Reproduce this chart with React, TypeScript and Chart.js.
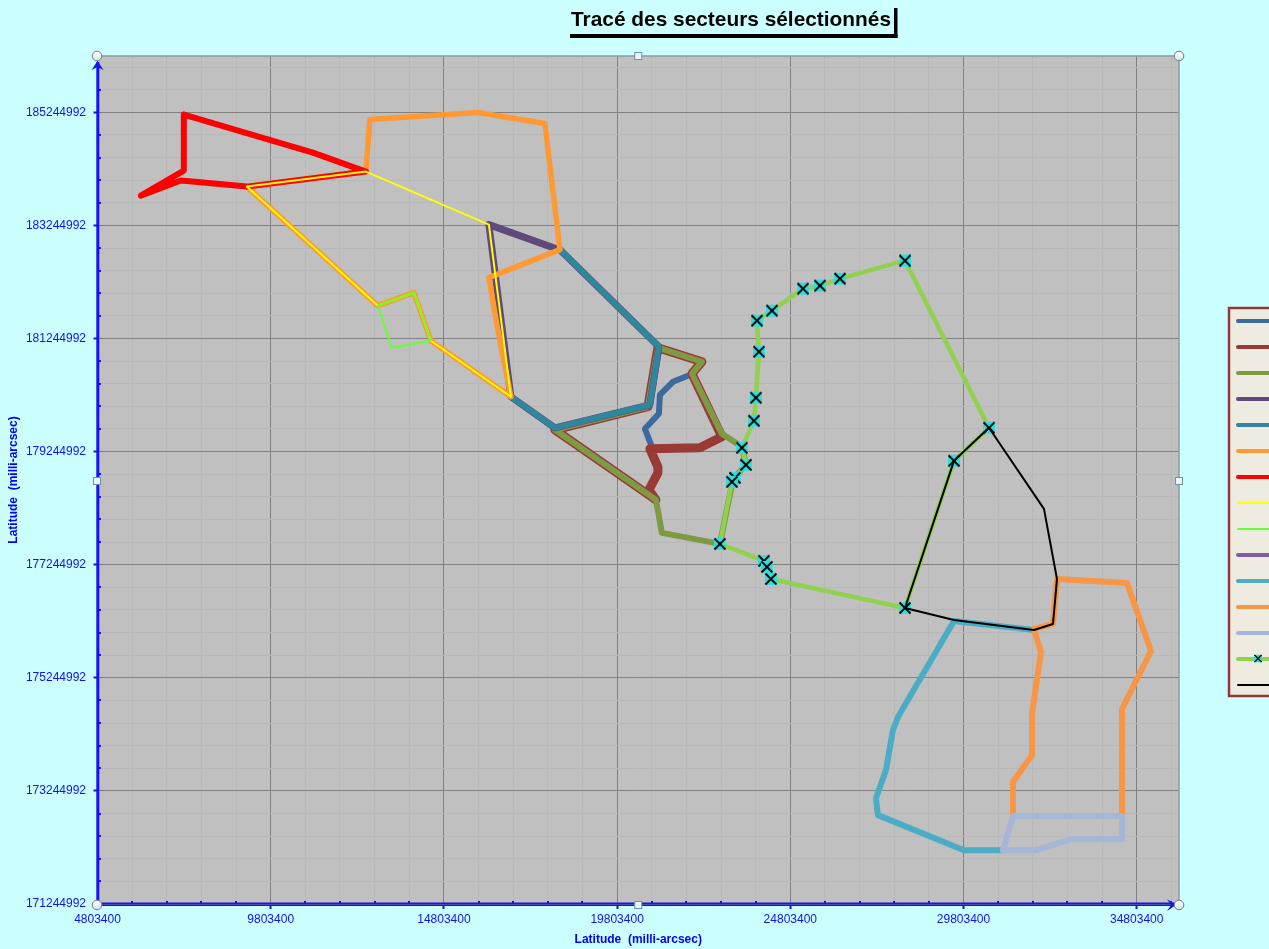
import React, { useEffect, useRef } from "react";
import { Chart, registerables } from "chart.js";

Chart.register(...registerables);

type Pt = [number, number];

const chartTitle = "Tracé des secteurs sélectionnés";
const axisTitle = "Latitude  (milli-arcsec)";

const xMajorTicks = [4803400, 9803400, 14803400, 19803400, 24803400, 29803400, 34803400];
const yMajorTicks = [171244992, 173244992, 175244992, 177244992, 179244992, 181244992, 183244992, 185244992];
const xMinorStep = 1000000;
const yMinorStep = 400000;
const xMin = 4803400;
const xMax = 36024000;
const yMin = 171244992;
const yMax = 186240600;
// Reading correction found by comparing positions with the reference.
const xReadingOffset = -20000;
const yReadingOffset = 14000;

const secteur1: Pt[] = [[21867000, 180572000], [21434000, 180466000], [21059000, 180236000], [21030000, 179900000], [20626000, 179634000], [20828000, 179316000]];
const secteur2: Pt[] = [[21001000, 181068000], [22272000, 180820000], [21983000, 180608000], [22849000, 179493000], [22214000, 179298000], [20770000, 179280000], [21001000, 178962000], [21001000, 178856000], [20741000, 178555000], [20943000, 178378000], [18027000, 179617000], [20713000, 180024000], [21001000, 181068000]];
const secteur3: Pt[] = [[21001000, 181068000], [22272000, 180820000], [21983000, 180608000], [22849000, 179546000], [23426000, 179316000], [23542000, 178997000], [23166000, 178732000], [22791000, 177599000], [21117000, 177794000], [20943000, 178378000], [18027000, 179617000], [20713000, 180024000], [21001000, 181068000]];
const secteur4: Pt[] = [[18056000, 182820000], [16122000, 183245000], [16757000, 180201000], [18027000, 179652000], [20770000, 180059000], [21030000, 181086000], [18172000, 182802000]];
const secteur5: Pt[] = [[18172000, 182802000], [21030000, 181086000], [20770000, 180059000], [18027000, 179652000], [16757000, 180201000]];
const secteur6: Pt[] = [[12686000, 185103000], [15804000, 185227000], [17739000, 185033000], [18172000, 182802000], [16122000, 182307000], [16353000, 181475000], [16757000, 180201000], [14447000, 181192000], [13956000, 182041000], [12917000, 181811000], [9134000, 183917000], [12570000, 184183000], [12686000, 185103000]];
const secteur7: Pt[] = [[7315000, 185192000], [11040000, 184519000], [12570000, 184183000], [9134000, 183917000], [7229000, 184024000], [6074000, 183758000], [7315000, 184201000], [7315000, 185192000]];
const secteur8: Pt[] = [[12570000, 184183000], [16122000, 183245000], [16757000, 180201000], [14447000, 181192000], [13956000, 182041000], [12917000, 181811000], [9134000, 183917000], [12570000, 184183000]];
const secteur9: Pt[] = [[12917000, 181811000], [13956000, 182041000], [14447000, 181192000], [13321000, 181068000], [12917000, 181811000]];
const secteur10: Pt[] = [];
const secteur11: Pt[] = [[31857000, 176077000], [29548000, 176236000], [27931000, 174537000], [27786000, 174307000], [27584000, 173599000], [27295000, 173103000], [27353000, 172803000], [29836000, 172183000], [30962000, 172183000]];
const secteur12: Pt[] = [[31251000, 172803000], [31251000, 173387000], [31800000, 173864000], [31800000, 174590000], [32059000, 175687000], [31857000, 176095000], [32406000, 176183000], [32522000, 176979000], [34543000, 176909000], [35236000, 175705000], [34399000, 174679000], [34399000, 172803000]];
const secteur13: Pt[] = [[31251000, 172785000], [34399000, 172785000], [34399000, 172378000], [32926000, 172378000], [31916000, 172183000], [30962000, 172183000], [31251000, 172785000]];
const trajectoire: Pt[] = [[28133000, 182608000], [26256000, 182289000], [25679000, 182165000], [25188000, 182112000], [24293000, 181723000], [23860000, 181546000], [23918000, 180997000], [23831000, 180183000], [23773000, 179776000], [23426000, 179298000], [23542000, 178997000], [23224000, 178767000], [23138000, 178696000], [22791000, 177599000], [24062000, 177298000], [24148000, 177192000], [24264000, 176979000], [28133000, 176466000], [29548000, 179068000], [30558000, 179652000], [28133000, 182608000]];
const contour: Pt[] = [[28133000, 176466000], [29548000, 179068000], [30558000, 179652000], [32146000, 178218000], [32522000, 176979000], [32406000, 176183000], [31857000, 176077000], [29548000, 176254000], [28133000, 176466000]];

const seriesData: Pt[][] = [secteur1, secteur2, secteur3, secteur4, secteur5, secteur6, secteur7, secteur8, secteur9, secteur10, secteur11, secteur12, secteur13, trajectoire, contour];
const seriesColors = ["#3A6A9E", "#993A37", "#7E9A43", "#604A7B", "#31859C", "#FF9933", "#FF0000", "#FFFF00", "#66FF33", "#7F5FA0", "#4BACC6", "#F79646", "#A5B6D7", "#92D050", "#000000"];
const seriesWidths = [6, 9, 6, 7, 6, 5.5, 6, 2, 2, 6, 6, 6, 6, 4.5, 2];

const AXIS_BLUE = "#1414F0";

function makeMarker(): HTMLCanvasElement {
  const c = document.createElement("canvas");
  c.width = 14;
  c.height = 14;
  const g = c.getContext("2d")!;
  g.fillStyle = "#2EE0E0";
  g.fillRect(1, 1, 12, 12);
  g.strokeStyle = "#000";
  g.lineWidth = 1.8;
  g.beginPath();
  g.moveTo(1.5, 1.5);
  g.lineTo(12.5, 12.5);
  g.moveTo(12.5, 1.5);
  g.lineTo(1.5, 12.5);
  g.stroke();
  return c;
}

function handleCircle(ctx: CanvasRenderingContext2D, x: number, y: number) {
  const grad = ctx.createLinearGradient(0, y - 5, 0, y + 5);
  grad.addColorStop(0, "#FFFFFF");
  grad.addColorStop(1, "#CDE6EE");
  ctx.fillStyle = grad;
  ctx.strokeStyle = "#7A7A7A";
  ctx.lineWidth = 1;
  ctx.beginPath();
  ctx.arc(x, y, 4.8, 0, Math.PI * 2);
  ctx.fill();
  ctx.stroke();
}

function handleSquare(ctx: CanvasRenderingContext2D, x: number, y: number) {
  ctx.fillStyle = "#EAF6FA";
  ctx.strokeStyle = "#6F8FB5";
  ctx.lineWidth = 1;
  ctx.fillRect(x - 3.5, y - 3.5, 7, 7);
  ctx.strokeRect(x - 3.5, y - 3.5, 7, 7);
}

const decorPlugin = {
  id: "decor",
  afterLayout(chart: any) {
    const t = chart.titleBlock;
    if (t) {
      t.left = 571;
      t.right = 891;
      t.top = 2;
    }
  },
  beforeDraw(chart: any) {
    const { ctx, width, height, chartArea: a } = chart;
    ctx.save();
    ctx.fillStyle = "#CCFFFF";
    ctx.fillRect(0, 0, width, height);
    ctx.fillStyle = "#C0C0C0";
    ctx.fillRect(a.left, a.top, a.right - a.left, a.bottom - a.top);
    ctx.restore();
  },
  afterDraw(chart: any) {
    const { ctx, chartArea: a, scales } = chart;
    ctx.save();
    // title frame
    ctx.fillStyle = "#000";
    ctx.fillRect(570, 34, 327.5, 4);
    ctx.fillRect(894, 8, 3.5, 30);
    // plot frame
    ctx.strokeStyle = "#8C9A9E";
    ctx.lineWidth = 1.5;
    ctx.beginPath();
    ctx.moveTo(a.left, a.top);
    ctx.lineTo(a.right, a.top);
    ctx.lineTo(a.right, a.bottom);
    ctx.stroke();
    // axis lines
    ctx.fillStyle = AXIS_BLUE;
    ctx.fillRect(96.3, a.top + 6, 3, a.bottom - a.top - 5);
    ctx.fillRect(a.left, a.bottom - 1.5, a.right - a.left - 4, 1.5);
    ctx.fillRect(a.left, a.bottom + 0.5, a.right - a.left - 4, 1.5);
    // minor ticks
    for (const tk of scales.x.ticks) {
      if (!xMajorTicks.includes(tk.value)) ctx.fillRect(Math.round(scales.x.getPixelForValue(tk.value)) - 1, a.bottom - 3, 2, 2);
    }
    for (const tk of scales.y.ticks) {
      if (!yMajorTicks.includes(tk.value)) ctx.fillRect(a.left + 1.5, Math.round(scales.y.getPixelForValue(tk.value)) - 1, 2, 2);
    }
    // arrow heads
    const ax = 97.5;
    ctx.beginPath();
    ctx.moveTo(ax, a.top + 5);
    ctx.lineTo(ax + 6, a.top + 14);
    ctx.lineTo(ax, a.top + 11);
    ctx.lineTo(ax - 6, a.top + 14);
    ctx.closePath();
    ctx.fill();
    ctx.beginPath();
    ctx.moveTo(a.right - 3, a.bottom + 1);
    ctx.lineTo(a.right - 12, a.bottom - 5);
    ctx.lineTo(a.right - 8, a.bottom + 1);
    ctx.lineTo(a.right - 12, a.bottom + 7);
    ctx.closePath();
    ctx.fill();
    // selection handles
    const midX = (a.left + a.right) / 2;
    const midY = (a.top + a.bottom) / 2;
    handleCircle(ctx, 97, a.top);
    handleCircle(ctx, a.right, a.top);
    handleCircle(ctx, 97, a.bottom + 1);
    handleCircle(ctx, a.right, a.bottom + 1);
    handleSquare(ctx, midX, a.top);
    handleSquare(ctx, 97, midY + 1);
    handleSquare(ctx, a.right, midY + 1);
    handleSquare(ctx, midX, a.bottom + 1);
    // legend (runs off the right edge of the page, as its labels do)
    ctx.fillStyle = "#EEECE1";
    ctx.fillRect(1229, 308, 60, 388);
    ctx.strokeStyle = "#953735";
    ctx.lineWidth = 2.5;
    ctx.strokeRect(1229, 308, 60, 388);
    chart.data.datasets.forEach((ds: any, i: number) => {
      const y = 321 + i * 26;
      ctx.strokeStyle = ds.borderColor;
      ctx.lineWidth = Math.min(ds.borderWidth, 4);
      ctx.lineCap = "round";
      ctx.beginPath();
      ctx.moveTo(1238, y);
      ctx.lineTo(1275, y);
      ctx.stroke();
      if (ds.pointStyle && typeof ds.pointStyle !== "string") {
        const s = 9;
        ctx.drawImage(ds.pointStyle, 1258 - s / 2, y - s / 2 - 0.5, s, s);
      }
    });
    ctx.restore();
  },
};

export default function App() {
  const ref = useRef<HTMLCanvasElement>(null);
  useEffect(() => {
    document.body.style.margin = "0";
    document.body.style.background = "#CCFFFF";
    document.body.style.overflow = "hidden";
    const marker = makeMarker();
    const font = { family: "'Liberation Sans', Arial, sans-serif", size: 12 };
    const n = seriesData.length;
    const chart = new Chart(ref.current!, {
      type: "scatter",
      data: {
        datasets: seriesData.map((pts, i) => {
          const hasMarker = pts === trajectoire;
          return {
            label: `Série ${i + 1}`,
            data: pts.map(([x, y]) => ({ x: x + xReadingOffset, y: y + yReadingOffset })),
            showLine: true,
            fill: false,
            tension: 0,
            borderColor: seriesColors[i],
            backgroundColor: seriesColors[i],
            borderWidth: seriesWidths[i],
            borderCapStyle: "round",
            borderJoinStyle: "round",
            pointStyle: hasMarker ? marker : "circle",
            pointRadius: hasMarker ? 7 : 0,
            pointHoverRadius: hasMarker ? 7 : 0,
            order: n - i,
          };
        }) as any,
      },
      plugins: [decorPlugin],
      options: {
        responsive: false,
        animation: false,
        events: [],
        layout: { padding: { left: 0, right: 90, top: 24.8, bottom: 0 } },
        plugins: {
          legend: { display: false },
          tooltip: { enabled: false },
          title: {
            display: true,
            text: chartTitle,
            color: "#000",
            padding: { top: 6, bottom: 0 },
            font: { family: "'Liberation Sans', Arial, sans-serif", size: 21, weight: "bold", lineHeight: 1.2 },
          },
        },
        scales: {
          x: {
            type: "linear",
            min: xMin,
            max: xMax,
            afterBuildTicks(s: any) {
              const t = [];
              for (let v = xMin; v <= xMax; v += xMinorStep) t.push({ value: v });
              s.ticks = t;
            },
            afterFit(s: any) {
              s.height = 45;
            },
            border: { display: false },
            grid: {
              color: (c: any) => (xMajorTicks.includes(c.tick?.value) ? "#808080" : "#B8B8B8"),
              tickColor: (c: any) => (xMajorTicks.includes(c.tick?.value) ? AXIS_BLUE : "rgba(0,0,0,0)"),
              tickWidth: 2,
              tickLength: 5,
            },
            ticks: {
              color: "#1010FF",
              font,
              padding: 3,
              autoSkip: false,
              maxRotation: 0,
              callback: (v: any) => (xMajorTicks.includes(v) ? String(v) : ""),
            },
            title: {
              display: true,
              text: axisTitle,
              color: "#0000FF",
              font: { ...font, weight: "bold" },
              padding: { top: 0, bottom: 2 },
            },
          },
          y: {
            type: "linear",
            min: yMin,
            max: yMax,
            afterBuildTicks(s: any) {
              const t = [];
              for (let v = yMin; v <= yMax; v += yMinorStep) t.push({ value: v });
              s.ticks = t;
            },
            afterFit(s: any) {
              s.width = 97.5;
            },
            border: { display: false },
            grid: {
              color: (c: any) => (yMajorTicks.includes(c.tick?.value) ? "#808080" : "#B8B8B8"),
              tickColor: (c: any) => (yMajorTicks.includes(c.tick?.value) ? AXIS_BLUE : "rgba(0,0,0,0)"),
              tickWidth: 2,
              tickLength: 4,
            },
            ticks: {
              color: "#1010FF",
              font,
              padding: 7.5,
              autoSkip: false,
              callback: (v: any) => (yMajorTicks.includes(v) ? String(v) : ""),
            },
            title: {
              display: true,
              text: axisTitle,
              color: "#0000FF",
              font: { ...font, weight: "bold" },
              padding: { top: 6, bottom: 0 },
            },
          },
        },
      } as any,
    });
    return () => chart.destroy();
  }, []);
  return (
    <div style={{ position: "absolute", left: 0, top: 0, width: 1269, height: 949, overflow: "hidden" }}>
      <canvas ref={ref} width={1269} height={949} style={{ display: "block" }} />
    </div>
  );
}
